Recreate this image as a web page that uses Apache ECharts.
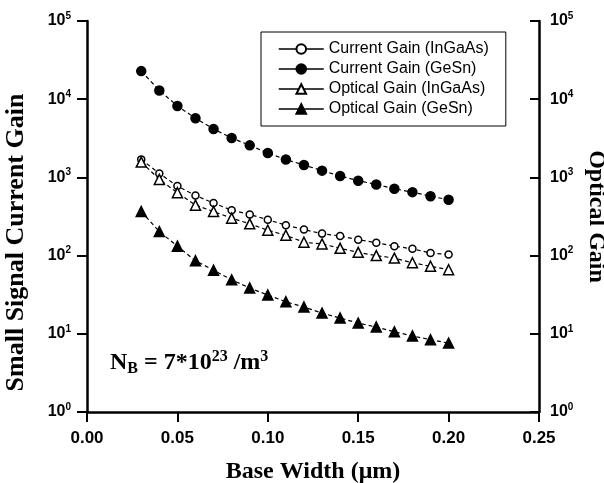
<!DOCTYPE html>
<html>
<head>
<meta charset="utf-8">
<script src="https://cdn.jsdelivr.net/npm/echarts@6/dist/echarts.min.js"></script>
<style>
html,body{margin:0;padding:0;background:#fff;}
#chart{width:604px;height:483px;}
</style>
</head>
<body>
<div id="chart"></div>
<script>
var baseWidth = [0.03,0.04,0.05,0.06,0.07,0.08,0.09,0.10,0.11,0.12,0.13,0.14,0.15,0.16,0.17,0.18,0.19,0.20];
var currentInGaAs = [1700,1125,774,588,469,381,336,287,245,215,191,178,160,146,132,122,108,103];
var currentGeSn = [22860,12940,8200,5700,4160,3190,2570,2050,1690,1440,1220,1040,908,813,716,648,575,518];
var opticalInGaAs = [1570,943,637,442,366,301,255,211,182,148,141,124,110,100,93,81,73,66];
var opticalGeSn = [366,203,132,86,65,49,38.5,31.3,25.7,22,18.4,15.9,13.7,12.2,10.6,9.4,8.4,7.6];
var seriesNames = ['Current Gain (InGaAs)','Current Gain (GeSn)','Optical Gain (InGaAs)','Optical Gain (GeSn)'];
var xTicks = [0.00,0.05,0.10,0.15,0.20,0.25];

function pairs(ys){ return baseWidth.map(function(x,i){ return [x, ys[i]]; }); }

var sans = 'Liberation Sans, Arial, sans-serif';
var serif = 'Liberation Serif, Times New Roman, serif';

function logLabel(v){
  var e = Math.round(Math.log10(v));
  return '{b|10}{s|' + e + '}';
}
var richLab = {
  b: {fontFamily: sans, fontWeight: 'bold', fontSize: 16, color: '#000', lineHeight: 20},
  s: {fontFamily: sans, fontWeight: 'bold', fontSize: 10, color: '#000', verticalAlign: 'top', lineHeight: 12}
};

function mkSeries(name, ys, symbol, filled, size){
  return {
    name: name, type: 'line', data: pairs(ys),
    symbol: symbol, symbolSize: size, showSymbol: true,
    lineStyle: {color: '#000', width: 1.2, type: [4,3]},
    itemStyle: {color: filled ? '#000' : '#fff', borderColor: '#000', borderWidth: 1.5},
    emphasis: {disabled: true},
    animation: false
  };
}

var chart = echarts.init(document.getElementById('chart'), null, {renderer: 'canvas'});
chart.setOption({
  animation: false,
  backgroundColor: '#fff',
  grid: {left: 87, right: 65, top: 21, bottom: 71, containLabel: false, outerBoundsMode: 'none'},
  legend: {
    orient: 'vertical', left: 261, top: 32,
    data: seriesNames,
    borderColor: '#000', borderWidth: 1,
    padding: [9, 17, 9, 17],
    itemWidth: 45, itemHeight: 12, itemGap: 4, itemTextGap: 3,
    lineStyle: {type: 'solid', width: 1.5, color: '#000'},
    textStyle: {fontFamily: sans, fontSize: 16, color: '#000'},
    selectedMode: false
  },
  xAxis: {
    type: 'value', min: 0, max: 0.25, interval: 0.05,
    name: 'Base Width (\u03bcm)', nameLocation: 'middle', nameGap: 48,
    nameTextStyle: {fontFamily: serif, fontWeight: 'bold', fontSize: 24, color: '#000'},
    axisLine: {show: true, lineStyle: {color: '#000', width: 2.5}},
    axisTick: {show: true, inside: false, length: 10, lineStyle: {color: '#000', width: 2}},
    axisLabel: {margin: 18, fontFamily: sans, fontWeight: 'bold', fontSize: 17, color: '#000',
      formatter: function(v){ return v.toFixed(2); }},
    splitLine: {show: false}
  },
  yAxis: [{
    type: 'log', logBase: 10, min: 1, max: 100000, position: 'left',
    name: 'Small Signal Current Gain', nameLocation: 'middle', nameGap: 58,
    nameTextStyle: {fontFamily: serif, fontWeight: 'bold', fontSize: 26, color: '#000', padding: [0, 52, 0, 0]},
    axisLine: {show: true, lineStyle: {color: '#000', width: 2.5}},
    axisTick: {show: true, inside: false, length: 10, lineStyle: {color: '#000', width: 2}},
    axisLabel: {margin: 16, formatter: logLabel, rich: richLab},
    minorTick: {show: false},
    splitLine: {show: false}
  }, {
    type: 'log', logBase: 10, min: 1, max: 100000, position: 'right',
    name: 'Optical Gain', nameLocation: 'middle', nameGap: 45, nameRotate: -90,
    nameTextStyle: {fontFamily: serif, fontWeight: 'bold', fontSize: 24, color: '#000'},
    axisLine: {show: true, lineStyle: {color: '#000', width: 2.5}},
    axisTick: {show: true, inside: true, length: 9, lineStyle: {color: '#000', width: 2}},
    axisLabel: {margin: 11, formatter: logLabel, rich: richLab},
    splitLine: {show: false}
  }],
  graphic: [{
    type: 'text', left: 110, top: 349,
    style: {
      text: '{n|N}{sub|B}{n| = 7*10}{sup|23}{n| /m}{sup|3}',
      rich: {
        n: {fontFamily: serif, fontWeight: 'bold', fontSize: 24, color: '#000', lineHeight: 28},
        sub: {fontFamily: serif, fontWeight: 'bold', fontSize: 16, color: '#000', verticalAlign: 'bottom', lineHeight: 14},
        sup: {fontFamily: serif, fontWeight: 'bold', fontSize: 16, color: '#000', verticalAlign: 'top', lineHeight: 14}
      }
    }
  }],
  series: [
    mkSeries(seriesNames[0], currentInGaAs, 'circle', false, 7),
    mkSeries(seriesNames[1], currentGeSn, 'circle', true, 9),
    mkSeries(seriesNames[2], opticalInGaAs, 'triangle', false, 10),
    mkSeries(seriesNames[3], opticalGeSn, 'triangle', true, 10)
  ]
});
</script>
</body>
</html>
